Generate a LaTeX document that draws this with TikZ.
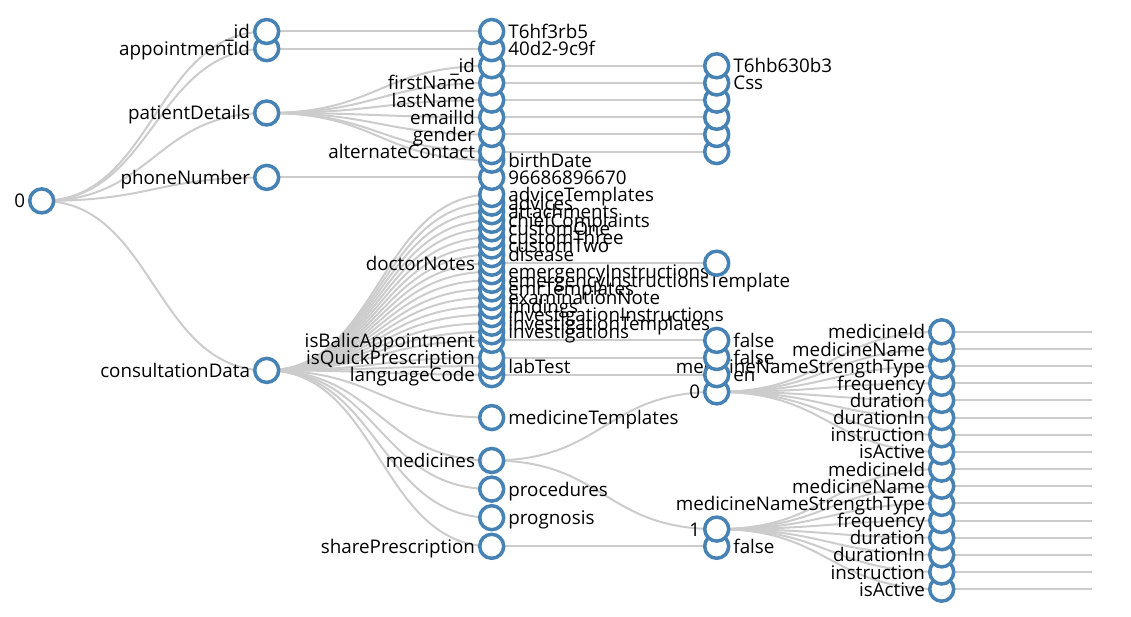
\documentclass[tikz,border=0pt]{standalone}
\usepackage{fontspec}
\setmainfont{Open Sans}
\usetikzlibrary{backgrounds}

\definecolor{steel}{HTML}{4682B4}
\definecolor{lgray}{HTML}{CCCCCC}
\newcommand{\lblfont}{\fontsize{18.8pt}{21pt}\selectfont}

\tikzset{
  dot/.style={circle, draw=steel, fill=white, line width=3.5pt, minimum size=24pt, inner sep=0pt, outer sep=0pt},
  link/.style={draw=lgray, line width=2pt},
  lbl/.style={inner sep=0pt, font=\lblfont, text=black, yshift=-7pt},
  lt/.style={label={[lbl, anchor=base east]left:#1}},
  rt/.style={label={[lbl, anchor=base west]right:#1}},
}

\begin{document}
\begin{tikzpicture}[x=1pt, y=-1pt, label distance=4.5pt]
  \useasboundingbox (0,0) rectangle (1131,617);

  % nodes, bottom of the tree first
  \node[dot, rt=false] (sharev) at (716.7,546.3) {};
  \node[dot, lt=sharePrescription] (share) at (491.7,546.3) {};
  \node[dot, rt=prognosis] (prog) at (491.7,517.7) {};
  \node[dot, rt=procedures] (proc) at (491.7,489.1) {};

  \node[dot, lt=isActive] (zb8) at (941.7,589.2) {};
  \node[dot, lt=instruction] (zb7) at (941.7,572.0) {};
  \node[dot, lt=durationIn] (zb6) at (941.7,554.9) {};
  \node[dot, lt=duration] (zb5) at (941.7,537.7) {};
  \node[dot, lt=frequency] (zb4) at (941.7,520.6) {};
  \node[dot, lt=medicineNameStrengthType] (zb3) at (941.7,503.4) {};
  \node[dot, lt=medicineName] (zb2) at (941.7,486.2) {};
  \node[dot, lt=medicineId] (zb1) at (941.7,469.1) {};
  \node[dot, lt=1] (mo) at (716.7,529.1) {};

  \node[dot, lt=isActive] (za8) at (941.7,451.9) {};
  \node[dot, lt=instruction] (za7) at (941.7,434.8) {};
  \node[dot, lt=durationIn] (za6) at (941.7,417.6) {};
  \node[dot, lt=duration] (za5) at (941.7,400.4) {};
  \node[dot, lt=frequency] (za4) at (941.7,383.3) {};
  \node[dot, lt=medicineNameStrengthType] (za3) at (941.7,366.1) {};
  \node[dot, lt=medicineName] (za2) at (941.7,349.0) {};
  \node[dot, lt=medicineId] (za1) at (941.7,331.8) {};
  \node[dot, lt=0] (mz) at (716.7,391.9) {};

  \node[dot, lt=medicines] (meds) at (491.7,460.5) {};
  \node[dot, rt=medicineTemplates] (medT) at (491.7,417.6) {};
  \node[dot, rt=en] (langv) at (716.7,374.7) {};
  \node[dot, lt=languageCode] (lang) at (491.7,374.7) {};
  \node[dot, rt=labTest] (lab) at (491.7,366.1) {};
  \node[dot, rt=false] (quickv) at (716.7,357.5) {};
  \node[dot, lt=isQuickPrescription] (quick) at (491.7,357.5) {};
  \node[dot, rt=false] (balicv) at (716.7,340.4) {};
  \node[dot, lt=isBalicAppointment] (balic) at (491.7,340.4) {};
  \node[dot, rt=investigations] (inv) at (491.7,331.8) {};
  \node[dot, rt=investigationTemplates] (invT) at (491.7,323.2) {};
  \node[dot, rt=investigationInstructions] (invI) at (491.7,314.6) {};
  \node[dot, rt=findings] (find) at (491.7,306.1) {};
  \node[dot, rt=examinationNote] (exam) at (491.7,297.5) {};
  \node[dot, rt=emrTemplates] (emr) at (491.7,288.9) {};
  \node[dot, rt=emergencyInstructionsTemplate] (emIT) at (491.7,280.3) {};
  \node[dot, rt=emergencyInstructions] (emI) at (491.7,271.7) {};
  \node[dot] (dnv) at (716.7,263.2) {};
  \node[dot, lt=doctorNotes] (dn) at (491.7,263.2) {};
  \node[dot, rt=disease] (dis) at (491.7,254.6) {};
  \node[dot, rt=customTwo] (cTwo) at (491.7,246.0) {};
  \node[dot, rt=customThree] (cThree) at (491.7,237.4) {};
  \node[dot, rt=customOne] (cOne) at (491.7,228.8) {};
  \node[dot, rt=chiefComplaints] (chief) at (491.7,220.3) {};
  \node[dot, rt=attachments] (att) at (491.7,211.7) {};
  \node[dot, rt=advices] (adv) at (491.7,203.1) {};
  \node[dot, rt=adviceTemplates] (advT) at (491.7,194.5) {};
  \node[dot, lt=consultationData] (cd) at (266.7,370.4) {};

  \node[dot, rt=96686896670] (phnum) at (491.7,177.4) {};
  \node[dot, lt=phoneNumber] (phone) at (266.7,177.4) {};

  \node[dot, rt=birthDate] (bdate) at (491.7,160.2) {};
  \node[dot] (altcv) at (716.7,151.6) {};
  \node[dot, lt=alternateContact] (altc) at (491.7,151.6) {};
  \node[dot] (genderv) at (716.7,134.5) {};
  \node[dot, lt=gender] (gender) at (491.7,134.5) {};
  \node[dot] (emailv) at (716.7,117.3) {};
  \node[dot, lt=emailId] (email) at (491.7,117.3) {};
  \node[dot] (lnamev) at (716.7,100.1) {};
  \node[dot, lt=lastName] (lname) at (491.7,100.1) {};
  \node[dot, rt=Css] (fnamev) at (716.7,83.0) {};
  \node[dot, lt=firstName] (fname) at (491.7,83.0) {};
  \node[dot, rt=T6hb630b3] (pidv) at (716.7,65.8) {};
  \node[dot, lt=\_id] (pid) at (491.7,65.8) {};
  \node[dot, lt=patientDetails] (pd) at (266.7,113.0) {};

  \node[dot, rt=40d2-9c9f] (apptv) at (491.7,48.7) {};
  \node[dot, lt=appointmentId] (apptid) at (266.7,48.7) {};
  \node[dot, rt=T6hf3rb5] (idv) at (491.7,31.5) {};
  \node[dot, lt=\_id] (id) at (266.7,31.5) {};
  \node[dot, lt=0] (root) at (41.7,200.9) {};

  % ends of the cut-off last level
  \coordinate (ea1) at (1091.7,331.8);
  \coordinate (ea2) at (1091.7,349.0);
  \coordinate (ea3) at (1091.7,366.1);
  \coordinate (ea4) at (1091.7,383.3);
  \coordinate (ea5) at (1091.7,400.4);
  \coordinate (ea6) at (1091.7,417.6);
  \coordinate (ea7) at (1091.7,434.8);
  \coordinate (ea8) at (1091.7,451.9);
  \coordinate (eb1) at (1091.7,469.1);
  \coordinate (eb2) at (1091.7,486.2);
  \coordinate (eb3) at (1091.7,503.4);
  \coordinate (eb4) at (1091.7,520.6);
  \coordinate (eb5) at (1091.7,537.7);
  \coordinate (eb6) at (1091.7,554.9);
  \coordinate (eb7) at (1091.7,572.0);
  \coordinate (eb8) at (1091.7,589.2);

  \begin{pgfonlayer}{background}
    \foreach \a/\b in {root/id, root/apptid, root/pd, root/phone, root/cd,
        id/idv, apptid/apptv, pd/pid, pd/fname, pd/lname, pd/email, pd/gender, pd/altc, pd/bdate, phone/phnum,
        cd/advT, cd/adv, cd/att, cd/chief, cd/cOne, cd/cThree, cd/cTwo, cd/dis, cd/dn, cd/emI, cd/emIT,
        cd/emr, cd/exam, cd/find, cd/invI, cd/invT, cd/inv, cd/balic, cd/quick, cd/lab, cd/lang,
        cd/medT, cd/meds, cd/proc, cd/prog, cd/share,
        pid/pidv, fname/fnamev, lname/lnamev, email/emailv, gender/genderv, altc/altcv,
        dn/dnv, balic/balicv, quick/quickv, lang/langv, meds/mz, meds/mo, share/sharev}
      \draw[link] (\a.center) .. controls +(112.5,0) and +(-112.5,0) .. (\b.center);
    \foreach \i in {1,...,8} {
      \draw[link] (mz.center) .. controls +(112.5,0) and +(-112.5,0) .. (za\i.center);
      \draw[link] (mo.center) .. controls +(112.5,0) and +(-112.5,0) .. (zb\i.center);
      \draw[link] (za\i.center) -- (ea\i);
      \draw[link] (zb\i.center) -- (eb\i);
    }
  \end{pgfonlayer}
\end{tikzpicture}
\end{document}
